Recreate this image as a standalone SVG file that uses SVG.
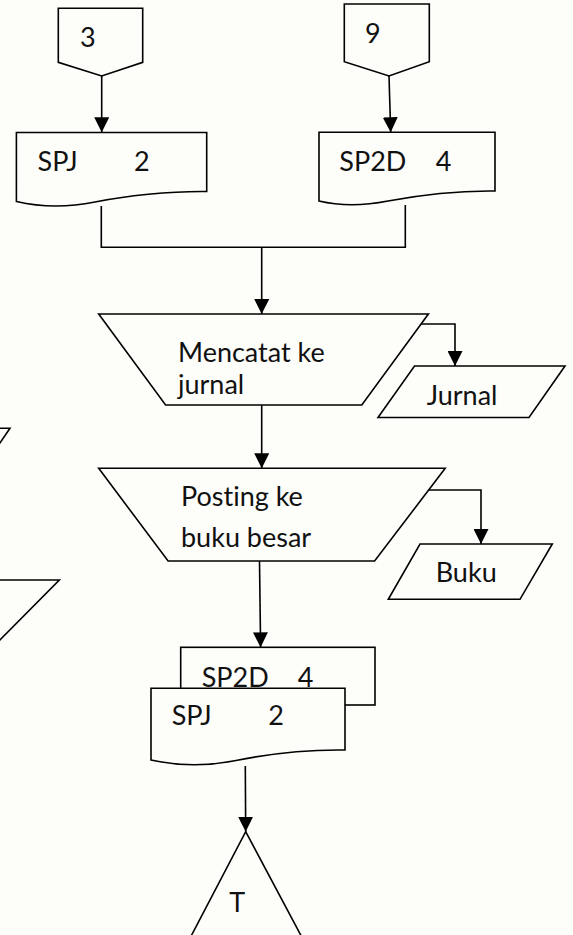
<svg xmlns="http://www.w3.org/2000/svg" width="573" height="935" viewBox="0 0 573 935">
  <style>
    .shape { fill: #fdfdfa; stroke: #000; stroke-width: 1.6; stroke-linejoin: miter; }
    .line { fill: none; stroke: #000; stroke-width: 1.6; }
    .arrow { fill: none; stroke: #000; stroke-width: 1.6; marker-end: url(#head); }
    .label { font-family: Lato, "Liberation Sans", sans-serif; font-size: 27px; fill: #111;
             font-variant-ligatures: none; font-feature-settings: "liga" 0, "clig" 0; }
  </style>
  <defs>
    <marker id="head" viewBox="0 0 15 15" refX="15" refY="7.5" markerWidth="15" markerHeight="15" markerUnits="userSpaceOnUse" orient="auto">
      <path d="M0,0 L15,7.5 L0,15 Z" fill="#000"/>
    </marker>
  </defs>

  <rect x="0" y="0" width="573" height="935" fill="#fdfdfa"/>

  <!-- connectors -->
  <g id="connectors">
    <path class="arrow" d="M101.7,76 V132.3"/>
    <path class="arrow" d="M389,76 L390.7,132.3"/>
    <path class="line" d="M101.3,206 V247.3 H405.3 V205"/>
    <path class="arrow" d="M261.7,247.3 V314"/>
    <path class="arrow" d="M414.5,324 H455 V366"/>
    <path class="arrow" d="M261.7,405 V468.3"/>
    <path class="arrow" d="M429,490 H481 V544"/>
    <path class="arrow" d="M259.5,561 L260.6,647.3"/>
    <path class="arrow" d="M245.3,766 L245.7,831.7"/>
  </g>

  <!-- partial shapes cut by the left edge -->
  <g id="edge-shapes">
    <path class="line" d="M-40,428.3 H10 L-20,472"/>
    <path class="line" d="M-40,580 H59.3 L-20,660"/>
  </g>

  <g id="conn-3">
    <polygon class="shape" points="58.3,8.3 142.7,8.3 142.7,62.3 101.7,76 58.3,62.3"/>
    <text class="label" x="80" y="46.7">3</text>
  </g>

  <g id="conn-9">
    <polygon class="shape" points="344.3,4 429.3,4 429.3,61.7 389,76 344.3,61.7"/>
    <text class="label" x="365" y="42.7">9</text>
  </g>

  <g id="doc-spj">
    <path class="shape" d="M16.4,132.5 H206.7 V191.5 C170,191 125,196 95,202 C65,208 40,207 16.4,201.5 Z"/>
    <text class="label" x="37.6" y="170.7">SPJ</text>
    <text class="label" x="134" y="170.7">2</text>
  </g>

  <g id="doc-sp2d">
    <path class="shape" d="M319,132.3 H495 V191 C460,190.5 420,195 388,201 C360,206.5 340,206 319,201 Z"/>
    <text class="label" x="339.3" y="170.7">SP2D</text>
    <text class="label" x="435.7" y="170.7">4</text>
  </g>

  <g id="op-jurnal">
    <polygon class="shape" points="98.7,314 428.4,314 361.8,405 165.6,405"/>
    <text class="label" x="178" y="361.7">Mencatat ke</text>
    <text class="label" x="178" y="394">jurnal</text>
  </g>

  <g id="out-jurnal">
    <polygon class="shape" points="414.5,366 565,366 529,417.5 378,417.5"/>
    <text class="label" x="426.7" y="405">Jurnal</text>
  </g>

  <g id="op-posting">
    <polygon class="shape" points="98.7,468.3 445.2,468.3 374.6,561 168.1,561"/>
    <text class="label" x="181" y="506">Posting ke</text>
    <text class="label" x="181" y="546.7">buku besar</text>
  </g>

  <g id="out-buku">
    <polygon class="shape" points="420,544 552.3,544 520,599.3 388.3,599.3"/>
    <text class="label" x="435.7" y="581.7">Buku</text>
  </g>

  <g id="doc-stack">
    <rect class="shape" x="180.7" y="647.3" width="194.3" height="57.7"/>
    <text class="label" x="201.7" y="686.7">SP2D</text>
    <text class="label" x="297.7" y="686.7">4</text>
    <path class="shape" d="M151,688.3 H345 V750 C310,749.5 268,754 236,760.5 C206,766.5 178,766 151,760 Z"/>
    <text class="label" x="171.7" y="725">SPJ</text>
    <text class="label" x="268.3" y="725">2</text>
  </g>

  <g id="terminal-t">
    <polygon class="shape" points="245.7,831.7 314,960 178.6,960"/>
    <text class="label" x="229.3" y="911.7">T</text>
  </g>
</svg>
